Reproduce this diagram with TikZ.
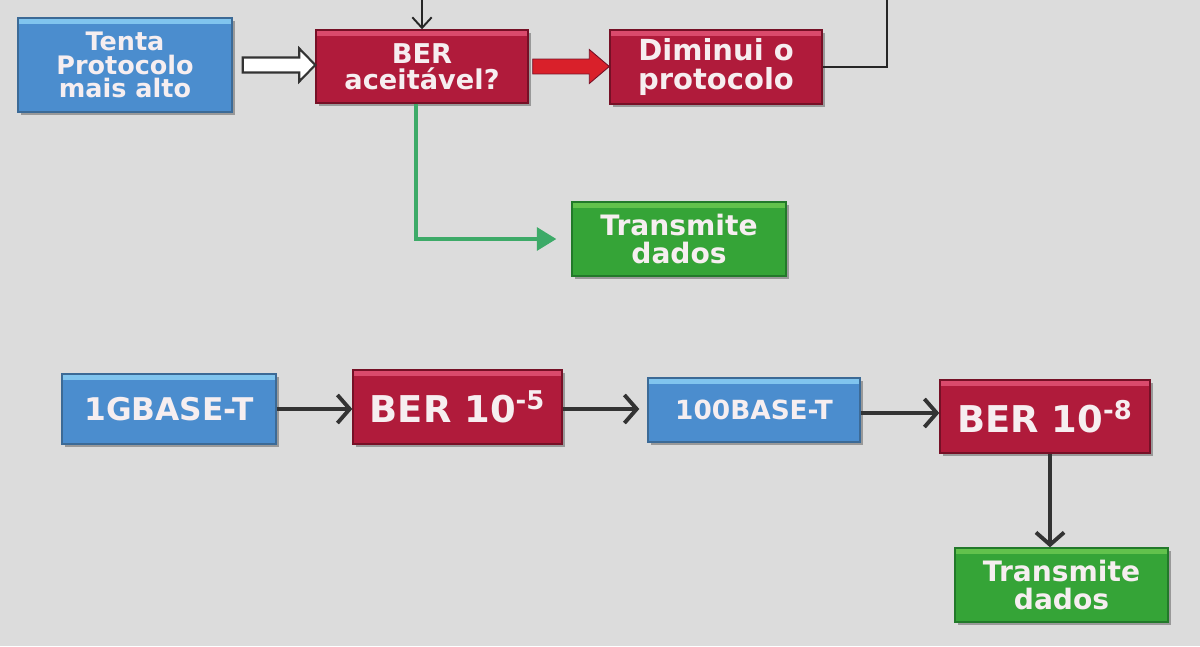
\documentclass[tikz,border=0pt]{standalone}
\usepackage{fontspec}
\setmainfont{DejaVu Sans}
\usetikzlibrary{arrows.meta,calc,shadows}
\definecolor{bgc}{HTML}{DCDCDC}
\definecolor{bluefill}{HTML}{4B8DCE}
\definecolor{bluelight}{HTML}{80C4EE}
\definecolor{blueedge}{HTML}{3C6A96}
\definecolor{redfill}{HTML}{B01B3B}
\definecolor{redlight}{HTML}{DA4A6C}
\definecolor{rededge}{HTML}{761026}
\definecolor{greenfill}{HTML}{35A437}
\definecolor{greenlight}{HTML}{62C24C}
\definecolor{greenedge}{HTML}{22792A}
\definecolor{arrowred}{HTML}{D9202A}
\definecolor{linegreen}{HTML}{3DAA68}
\definecolor{linegray}{HTML}{333333}
\definecolor{txt}{HTML}{F6EEF0}
\tikzset{
  flowbox/.style={rectangle, draw, line width=0.8pt, align=center, text=txt,
    inner sep=2pt, font=\bfseries\fontsize{15.5}{15}\selectfont,
    drop shadow={shadow xshift=1.8pt, shadow yshift=-1.8pt, fill=black, opacity=0.3}},
  bluebox/.style={flowbox, fill=bluefill, draw=blueedge,
    path picture={\fill[bluelight] ([yshift=-0.4pt]path picture bounding box.north west) rectangle ([yshift=-3.5pt]path picture bounding box.north east);}},
  redbox/.style={flowbox, fill=redfill, draw=rededge,
    path picture={\fill[redlight] ([yshift=-0.4pt]path picture bounding box.north west) rectangle ([yshift=-3.5pt]path picture bounding box.north east);}},
  greenbox/.style={flowbox, fill=greenfill, draw=greenedge,
    path picture={\fill[greenlight] ([yshift=-0.4pt]path picture bounding box.north west) rectangle ([yshift=-3.5pt]path picture bounding box.north east);}},
  thinarrow/.style={draw=black!85, line width=1.1pt, -{Straight Barb[length=6pt,width=11pt]}},
  thinline/.style={draw=black!85, line width=1.4pt},
  grayarrow/.style={draw=linegray, line width=2.2pt, -{Straight Barb[length=7pt,width=16pt]}},
  greenline/.style={draw=linegreen, line width=1.8pt, -{Triangle[length=11pt,width=13pt]}},
  whiteblock/.style={fill=white, draw=black!80, line width=1.2pt, line join=miter},
  redblock/.style={fill=arrowred, draw=rededge, line width=0.5pt},
}
\begin{document}
\begin{tikzpicture}
\useasboundingbox (0,0) rectangle (24,12.92);
\fill[bgc] (0,0) rectangle (24,12.92);

% top part
\node[bluebox, minimum width=4.28cm, minimum height=1.88cm, font=\bfseries\fontsize{14.5}{13.5}\selectfont] (tenta) at (2.5,11.62) {Tenta\\Protocolo\\mais alto};
\node[redbox, minimum width=4.24cm, minimum height=1.46cm] (ber) at (8.44,11.59) {BER\\aceitável?};
\node[redbox, minimum width=4.24cm, minimum height=1.48cm, font=\bfseries\fontsize{16.5}{16}\selectfont] (dim) at (14.32,11.58) {Diminui o\\protocolo};
\node[greenbox, minimum width=4.28cm, minimum height=1.48cm, font=\bfseries\fontsize{16}{15.5}\selectfont] (t1) at (13.58,8.14) {Transmite\\dados};

% bottom part
\node[bluebox, minimum width=4.28cm, minimum height=1.40cm, font=\bfseries\fontsize{17.8}{17}\selectfont] (g1) at (3.38,4.74) {1GBASE-T};
\node[redbox, minimum width=4.18cm, minimum height=1.48cm, font=\bfseries\fontsize{21}{20}\selectfont] (b5) at (9.15,4.78) {BER 10\textsuperscript{-5}};
\node[bluebox, minimum width=4.24cm, minimum height=1.28cm, font=\bfseries\fontsize{15}{15}\selectfont] (b100) at (15.08,4.72) {100BASE-T};
\node[redbox, minimum width=4.20cm, minimum height=1.46cm, font=\bfseries\fontsize{21}{20}\selectfont] (b8) at (20.9,4.59) {BER 10\textsuperscript{-8}};
\node[greenbox, minimum width=4.26cm, minimum height=1.48cm, font=\bfseries\fontsize{16}{15.5}\selectfont] (t2) at (21.23,1.22) {Transmite\\dados};

% top connectors
\coordinate (top1) at (8.44,12.92);
\coordinate (top2) at (17.74,12.92);
\draw[thinarrow] (top1) -- (ber.north);
\draw[thinline] (dim.east) -| (top2);

\coordinate (wa) at ([xshift=0.2cm]tenta.east);
\coordinate (wb) at (wa -| ber.west);
\draw[whiteblock] ($(wa)+(0,0.15)$) -- ($(wb)+(-0.32,0.15)$) -- ($(wb)+(-0.32,0.33)$) -- (wb)
  -- ($(wb)+(-0.32,-0.33)$) -- ($(wb)+(-0.32,-0.15)$) -- ($(wa)+(0,-0.15)$) -- cycle;

\coordinate (ra) at ([xshift=0.08cm]ber.east);
\coordinate (rb) at (ra -| dim.west);
\draw[redblock] ($(ra)+(0,0.15)$) -- ($(rb)+(-0.4,0.15)$) -- ($(rb)+(-0.4,0.34)$) -- (rb)
  -- ($(rb)+(-0.4,-0.34)$) -- ($(rb)+(-0.4,-0.15)$) -- ($(ra)+(0,-0.15)$) -- cycle;

\draw[greenline] ([xshift=-0.12cm]ber.south) |- ([xshift=-0.3cm]t1.west);

% bottom connectors
\draw[grayarrow] (g1.east) -- (g1.east -| b5.west);
\coordinate (c2) at ([xshift=-0.16cm]b100.west);
\draw[grayarrow] (b5.east |- g1.east) -- (c2 |- g1.east);
\coordinate (c3) at ([yshift=-0.06cm]b100.east);
\draw[grayarrow] (c3) -- (c3 -| b8.west);
\coordinate (c4) at ([xshift=0.1cm]b8.south);
\draw[grayarrow] (c4) -- (c4 |- t2.north);
\end{tikzpicture}
\end{document}
